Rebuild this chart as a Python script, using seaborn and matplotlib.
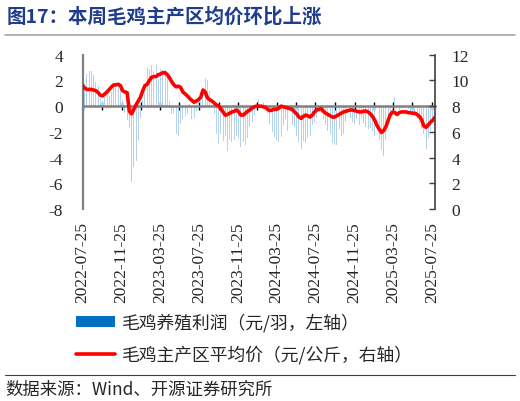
import numpy as np
import pandas as pd
import matplotlib
matplotlib.use('Agg')
import matplotlib.pyplot as plt
import matplotlib.dates as mdates
from matplotlib.patches import Patch
from matplotlib.lines import Line2D
import seaborn as sns

# ================= DATA =================
start_date = '2022-07-25'

# 毛鸡养殖利润（元/羽），周度
profit = [
    2.0, 1.6, 2.5, 2.75, 2.75, 2.4, 1.9, 1.6, 0.6, 0.4,
    0.7, 0.9, 0.8, 1.1, 1.4, 1.5, 1.8, 1.4, 0.5, -0.55,
    -1.1, -1.6, -5.9, -4.7, -4.3, -2.6, -0.9, 0.5, 1.4, 3.0,
    2.9, 3.2, 2.75, 3.25, 2.1, 2.9, 2.8, 2.8, 2.3, 0.4,
    -0.6, -0.5, -2.2, -2.3, -1.4, -1.0, -0.8, -0.6, 0.2, -1.0,
    -0.9, -0.4, -0.1, 0.4, 1.4, 2.2, 2.0, 1.2, 0.1, -0.6,
    -2.2, -2.95, -2.2, -2.7, -2.3, -3.5, -2.6, -2.8, -2.6, -2.3,
    -2.5, -3.2, -2.8, -3.0, -2.5, -1.6, -1.2, -0.7, 0.3, 0.45,
    0.5, 0.3, 0.1, -0.5, -1.4, -2.0, -2.4, -2.6, -2.8, -2.4,
    -1.5, -1.0, -1.9, -2.2, -1.5, -1.6, -2.3, -2.8, -3.3, -2.7,
    -2.9, -2.5, -2.3, -1.5, -1.2, -0.9, -0.4, -0.5, -1.0, -1.4,
    -1.9, -2.2, -2.9, -3.0, -3.0, -1.8, -2.3, -2.2, -1.2, -1.0,
    -0.9, -1.2, -1.4, -1.0, -1.5, -0.9, -1.3, -1.6, -1.8, -1.7,
    -1.9, -2.3, -2.5, -2.6, -3.4, -3.9, -2.6, -1.3, -0.4, -0.1,
    0.7, 0.0, -0.3, -0.2, -0.1, -0.3, -0.2, -0.5, -0.6, -0.8,
    -1.0, -1.3, -1.8, -2.2, -3.3, -2.5, -1.9, -1.2, -0.3,
]

# 毛鸡主产区平均价（元/公斤），周度
price = [
    9.64, 9.4, 9.3, 9.3, 9.3, 9.25, 9.2, 9.05, 8.85, 8.8,
    8.95, 9.1, 9.3, 9.5, 9.65, 9.65, 9.7, 9.6, 9.2, 9.1,
    9.05, 7.6, 7.4, 7.75, 8.1, 8.4, 8.7, 9.2, 9.6, 9.7,
    10.0, 10.25, 10.3, 10.3, 10.45, 10.5, 10.6, 10.6, 10.45, 10.2,
    9.9, 9.65, 9.5, 9.55, 9.45, 9.1, 8.95, 8.8, 8.6, 8.45,
    8.3, 8.4, 8.5, 8.7, 9.25, 9.1, 8.65, 8.5, 8.4, 8.25,
    8.1, 8.0, 7.8, 7.55, 7.3, 7.35, 7.45, 7.55, 7.6, 7.7,
    7.55, 7.3, 7.3, 7.45, 7.6, 7.7, 7.85, 7.95, 8.0, 8.0,
    8.0, 7.95, 7.9, 7.75, 7.65, 7.7, 7.75, 7.75, 7.85, 8.0,
    7.95, 7.9, 7.85, 7.8, 7.75, 7.55, 7.4, 7.15, 7.05, 7.2,
    7.3, 7.25, 7.15, 7.3, 7.55, 7.7, 7.75, 7.8, 7.6, 7.45,
    7.35, 7.25, 7.15, 7.15, 7.25, 7.35, 7.45, 7.55, 7.6, 7.65,
    7.7, 7.7, 7.65, 7.6, 7.55, 7.55, 7.6, 7.62, 7.55, 7.4,
    7.2, 6.9, 6.5, 6.2, 5.95, 6.1, 6.4, 6.9, 7.35, 7.55,
    7.5, 7.35, 7.5, 7.55, 7.55, 7.55, 7.5, 7.48, 7.45, 7.45,
    7.35, 7.2, 6.95, 6.45, 6.35, 6.55, 6.75, 6.9, 7.15,
]

title = '图17：本周毛鸡主产区均价环比上涨'
label_profit = '毛鸡养殖利润（元/羽，左轴）'
label_price = '毛鸡主产区平均价（元/公斤，右轴）'
source = '数据来源：Wind、开源证券研究所'

left_ticks = [-8, -6, -4, -2, 0, 2, 4]
right_ticks = [0, 2, 4, 6, 8, 10, 12]

# ================= PLOT =================
sns.set_style('white')
plt.rcParams['font.family'] = ['Noto Sans CJK SC', 'DejaVu Sans']
plt.rcParams['axes.unicode_minus'] = False

dates = pd.date_range(start_date, periods=len(price), freq='7D')
df = pd.DataFrame({'date': dates, 'profit': profit, 'price': price})

W, H = 520, 402
fig = plt.figure(figsize=(W / 100, H / 100), dpi=100)
ax = fig.add_axes([82.5 / W, 1 - 210 / H, (435 - 82.5) / W, (210 - 55.7) / H])

ax.bar(df['date'], df['profit'], width=3, color='#B4D2EC', linewidth=0, zorder=1)
ax.set_ylim(left_ticks[0], left_ticks[-1])
ax.set_yticks(left_ticks)
ax.set_xlim(df['date'].iloc[0], df['date'].iloc[-1])

serif = 'Liberation Serif'
tick_fs = 12.5

# 横轴画在 0 位置，刻度线穿过
minor_dates = pd.date_range(start_date, '2025-07-25', freq=pd.DateOffset(months=2))
label_dates = pd.date_range(start_date, '2025-07-25', freq=pd.DateOffset(months=4))
ax.set_xticks(mdates.date2num(minor_dates))
ax.spines['bottom'].set_position(('data', 0))
ax.spines['bottom'].set_color('#808080')
ax.spines['bottom'].set_linewidth(1.8)
ax.spines['bottom'].set_zorder(3)
ax.tick_params(axis='x', direction='inout', length=6, width=1, color='black',
               labelbottom=False, bottom=True)
ax.spines['left'].set_color('#808080')
ax.spines['left'].set_linewidth(1.6)
ax.spines['top'].set_visible(False)
ax.spines['right'].set_visible(False)
ax.tick_params(axis='y', length=0, pad=14, labelsize=tick_fs, labelfontfamily=serif)

# 日期标签放在图底部
sec = ax.secondary_xaxis('bottom')
sec.set_xticks(mdates.date2num(label_dates))
sec.set_xticklabels([d.strftime('%Y-%m-%d') for d in label_dates], rotation=90)
sec.tick_params(length=0, pad=9, labelsize=tick_fs, labelfontfamily=serif)
sec.spines['bottom'].set_visible(False)

# 右轴：价格
ax2 = ax.twinx()
sns.lineplot(data=df, x='date', y='price', ax=ax2, color='#FF0000', linewidth=2.6)
ax2.set_ylim(right_ticks[0], right_ticks[-1])
ax2.set_yticks(right_ticks)
ax2.set_xlabel('')
ax2.set_ylabel('')
ax.set_xlabel('')
ax.set_ylabel('')
for s in ['left', 'top', 'bottom']:
    ax2.spines[s].set_visible(False)
ax2.spines['right'].set_color('#404040')
ax2.spines['right'].set_linewidth(1.2)
ax2.tick_params(axis='y', direction='in', length=4, width=1, color='#404040', pad=12,
                labelsize=tick_fs, labelfontfamily=serif)

# 标题与分隔线
fig.text(7 / W, 1 - 17 / H, title, fontsize=14, fontweight='bold', color='#1F3D8C',
         ha='left', va='center')
fig.add_artist(Line2D([5 / W, 515 / W], [1 - 36 / H] * 2, color='#A6A6A6', lw=1.2,
                      transform=fig.transFigure))
fig.add_artist(Line2D([5 / W, 515 / W], [1 - 376 / H] * 2, color='#404040', lw=0.8,
                      transform=fig.transFigure))

# 图例
handles = [Patch(facecolor='#0070C0', edgecolor='none'),
           Line2D([0], [0], color='#FF0000', lw=2.6)]
fig.legend(handles, [label_profit, label_price], loc='upper left',
           bbox_to_anchor=(76 / W, 1 - 314 / H), frameon=False, fontsize=12.8,
           handlelength=2.2, handleheight=0.6, labelspacing=0.75, handletextpad=0.4,
           borderaxespad=0, borderpad=0)

fig.text(5 / W, 1 - 390 / H, source, fontsize=12.5, ha='left', va='center')

fig.savefig('out.png', dpi=100)
